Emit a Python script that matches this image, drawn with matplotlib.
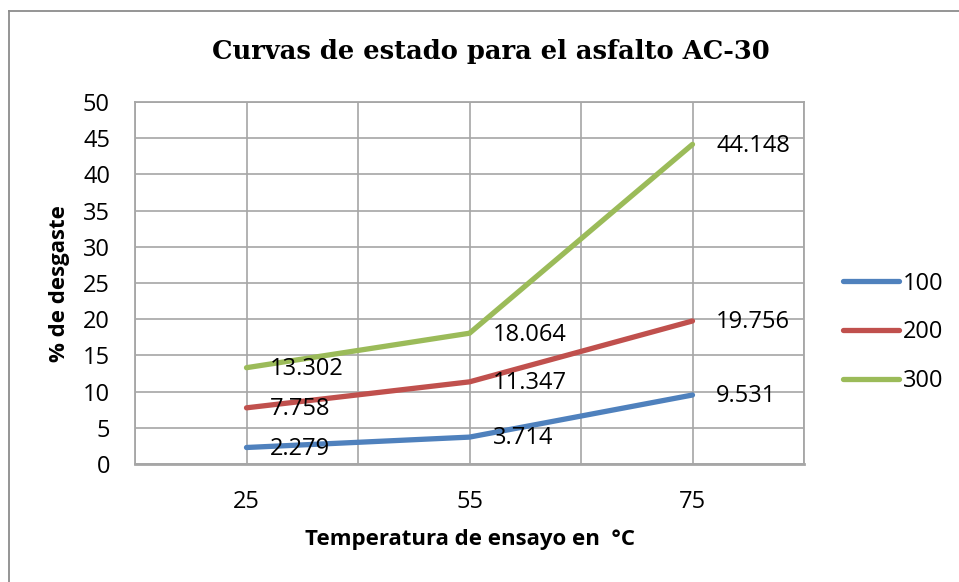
import matplotlib
matplotlib.use("Agg")
import matplotlib.pyplot as plt
from matplotlib.lines import Line2D

# ---- data ----
categories = ["25", "55", "75"]
series_names = ["100", "200", "300"]
s100 = [2.279, 3.714, 9.531]
s200 = [7.758, 11.347, 19.756]
s300 = [13.302, 18.064, 44.148]
yticks = [0, 5, 10, 15, 20, 25, 30, 35, 40, 45, 50]
title = "Curvas de estado para el asfalto AC-30"
xlabel = "Temperatura de ensayo en  °C"
ylabel = "% de desgaste"

colors = ["#4F81BD", "#C0504D", "#9BBB59"]
W, H = 959, 582
fig = plt.figure(figsize=(W / 100, H / 100), dpi=100)
plt.rcParams['font.family'] = ['Open Sans', 'DejaVu Sans']

L, R, T, B = 135, 804, 102, 464
ax = fig.add_axes([L / W, 1 - B / H, (R - L) / W, (B - T) / H])

FS = 17
x = list(range(len(categories)))
for vals, name, c in zip([s100, s200, s300], series_names, colors):
    ax.plot(x, vals, color=c, lw=3.8, solid_capstyle='round', solid_joinstyle='round',
            label=name, zorder=3)
    for xi, v in zip(x, vals):
        ax.annotate(f"{v:.3f}", (xi, v), xytext=(17, -1), textcoords='offset points',
                    ha='left', va='center', fontsize=FS, color='black', zorder=4)

ax.set_xlim(-0.5, len(categories) - 0.5)
ax.set_ylim(0, 50)
ax.set_yticks(yticks)
ax.set_xticks(x)
ax.set_xticklabels(categories)
ax.set_xticks([i - 0.5 for i in range(len(categories) + 1)], minor=True)
grid_c = "#A6A6A6"
ax.grid(True, which='major', axis='both', color=grid_c, lw=1.2)
ax.grid(True, which='minor', axis='x', color=grid_c, lw=1.2)
ax.set_axisbelow(True)
for s in ax.spines.values():
    s.set_color(grid_c)
    s.set_linewidth(1.3)
ax.spines['bottom'].set_linewidth(2.0)
ax.tick_params(axis='both', which='both', length=0, labelsize=FS)
ax.tick_params(axis='y', pad=18)
ax.tick_params(axis='x', pad=19)

fig.text(491 / W, 1 - 52 / H, title, ha='center', va='center', fontsize=18.5,
         fontweight='bold', family='DejaVu Serif')
fig.text(470 / W, 1 - 540 / H, xlabel, ha='center', va='center', fontsize=16,
         fontweight='bold')
fig.text(60 / W, 1 - 284 / H, ylabel, ha='center', va='center', rotation=90,
         fontsize=16, fontweight='bold')

leg = ax.legend(loc='center left', bbox_to_anchor=(843 / W, 1 - 332.5 / H),
                bbox_transform=fig.transFigure, frameon=False, fontsize=FS,
                handlelength=2.37, handletextpad=0.17, labelspacing=1.05,
                borderaxespad=0, borderpad=0)

frame_c = "#8C8C8C"
fig.add_artist(Line2D([9 / W, 1.0], [1 - 11 / H, 1 - 11 / H], transform=fig.transFigure,
                      color=frame_c, lw=1.3))
fig.add_artist(Line2D([9 / W, 9 / W], [0.0, 1 - 11 / H], transform=fig.transFigure,
                      color=frame_c, lw=1.3))

fig.savefig("out.png", dpi=100)
